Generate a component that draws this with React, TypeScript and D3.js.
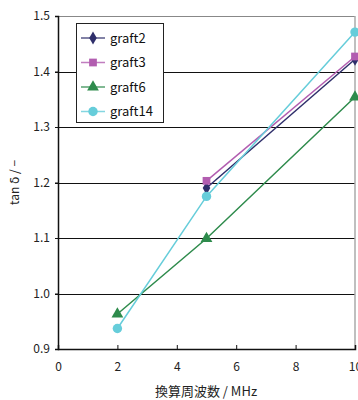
import { useEffect, useRef } from 'react';
import * as d3 from 'd3';

const SERIES = ['graft2', 'graft3', 'graft6', 'graft14'];
const COLORS = ['#2f2f6b', '#b25db0', '#2e8b4c', '#66cdda'];
const SHAPES = [d3.symbolDiamond, d3.symbolSquare, d3.symbolTriangle, d3.symbolCircle];

const FREQ_2 = [5, 10];
const FREQ_3 = [5, 10];
const FREQ_6 = [2, 5, 10];
const FREQ_14 = [2, 5, 10];

const TAN_2 = [1.19, 1.422];
const TAN_3 = [1.203, 1.427];
const TAN_6 = [0.963, 1.099, 1.354];
const TAN_14 = [0.937, 1.175, 1.471];

const X_TICKS = [0, 2, 4, 6, 8, 10];
const Y_TICKS = [0.9, 1.0, 1.1, 1.2, 1.3, 1.4, 1.5];

const FONT = '"Noto Sans CJK JP", "DejaVu Sans", sans-serif';

export default function App() {
  const svgRef = useRef<SVGSVGElement>(null);

  useEffect(() => {
    const W = 358, H = 400;
    const M = { top: 16, right: 3, bottom: 51, left: 58 };
    const svg = d3.select(svgRef.current);
    svg.selectAll('*').remove();

    const x = d3.scaleLinear().domain([0, 10]).range([M.left, W - M.right]);
    const y = d3.scaleLinear().domain([0.9, 1.5]).range([H - M.bottom, M.top]);

    const g = svg.append('g');

    // gridlines
    Y_TICKS.filter(v => v > 0.9 && v < 1.5).forEach(v => {
      g.append('line')
        .attr('x1', x(0) - 3).attr('x2', x(10))
        .attr('y1', Math.round(y(v)) + 0.5).attr('y2', Math.round(y(v)) + 0.5)
        .attr('stroke', '#111').attr('stroke-width', 1);
    });

    // frame: top & right gray
    g.append('line').attr('x1', x(0) - 3).attr('x2', x(10)).attr('y1', y(1.5) + 0.5).attr('y2', y(1.5) + 0.5)
      .attr('stroke', '#888').attr('stroke-width', 1);
    g.append('line').attr('x1', x(10)).attr('x2', x(10)).attr('y1', y(1.5)).attr('y2', y(0.9))
      .attr('stroke', '#aaa').attr('stroke-width', 1.5);

    // y axis
    g.append('g')
      .attr('transform', `translate(${x(0)},0)`)
      .call(d3.axisLeft(y).tickValues(Y_TICKS).tickSize(3).tickFormat(d3.format('.1f')))
      .call(ax => ax.select('.domain').attr('stroke', '#111').attr('stroke-width', 1.5))
      .call(ax => ax.selectAll('.tick line').attr('stroke', '#111'))
      .call(ax => ax.selectAll('.tick text').attr('fill', '#222').attr('font-size', 12).attr('font-family', FONT).attr('x', -8));

    // x axis
    g.append('g')
      .attr('transform', `translate(0,${y(0.9)})`)
      .call(d3.axisBottom(x).tickValues(X_TICKS).tickSize(-4).tickFormat(d3.format('d')))
      .call(ax => ax.select('.domain').attr('stroke', '#111').attr('stroke-width', 1.5))
      .call(ax => ax.selectAll('.tick line').attr('stroke', '#111'))
      .call(ax => ax.selectAll('.tick text').attr('fill', '#222').attr('font-size', 12).attr('font-family', FONT).attr('y', 13));

    // series
    const xs = [FREQ_2, FREQ_3, FREQ_6, FREQ_14];
    const ys = [TAN_2, TAN_3, TAN_6, TAN_14];
    const line = d3.line<[number, number]>().x(d => x(d[0])).y(d => y(d[1]));
    const sizes = [50, 60, 60, 70];
    SERIES.forEach((s, i) => {
      const pts: [number, number][] = xs[i].map((f, j) => [f, ys[i][j]]);
      g.append('path').datum(pts).attr('d', line).attr('fill', 'none')
        .attr('stroke', COLORS[i]).attr('stroke-width', 1.5);
      pts.forEach(p => {
        g.append('path')
          .attr('transform', `translate(${x(p[0])},${y(p[1])})`)
          .attr('d', d3.symbol(SHAPES[i], sizes[i])())
          .attr('fill', COLORS[i]);
      });
    });

    // legend
    const lg = g.append('g').attr('transform', 'translate(76,23)');
    lg.append('rect').attr('x', 0.5).attr('y', 0.5).attr('width', 87).attr('height', 99)
      .attr('fill', '#fff').attr('stroke', '#222').attr('stroke-width', 1);
    SERIES.forEach((s, i) => {
      const cy = 15 + i * 24.5;
      lg.append('line').attr('x1', 5).attr('x2', 29).attr('y1', cy).attr('y2', cy)
        .attr('stroke', COLORS[i]).attr('stroke-width', 1.5).attr('opacity', 0.8);
      lg.append('path').attr('transform', `translate(17,${cy})`)
        .attr('d', d3.symbol(SHAPES[i], sizes[i])()).attr('fill', COLORS[i]);
      lg.append('text').attr('x', 34).attr('y', cy + 4.5)
        .attr('font-size', 13).attr('font-family', FONT).attr('fill', '#111').text(s);
    });

    // axis titles
    const yt = svg.append('text')
      .attr('transform', `translate(19,${(y(0.9) + y(1.5)) / 2}) rotate(-90)`)
      .attr('text-anchor', 'middle').attr('font-size', 12).attr('font-family', FONT).attr('fill', '#222');
    yt.append('tspan').text('tan ');
    yt.append('tspan').attr('font-family', '"DejaVu Sans", sans-serif').text('δ');
    yt.append('tspan').text(' / −');
    svg.append('text')
      .attr('x', 206).attr('y', 396)
      .attr('text-anchor', 'middle').attr('font-size', 13).attr('font-family', FONT).attr('fill', '#222')
      .text('換算周波数 / MHz');
  }, []);

  return (
    <div style={{ position: 'absolute', left: 0, top: 0 }}>
      <svg ref={svgRef} width={358} height={400} style={{ display: 'block', background: '#fff' }} />
    </div>
  );
}
